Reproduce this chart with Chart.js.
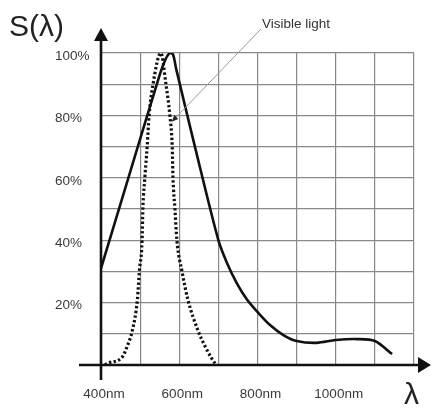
<!DOCTYPE html>
<html>
<head>
<meta charset="utf-8">
<script src="https://cdn.jsdelivr.net/npm/chart.js@4.4.0/dist/chart.umd.min.js"></script>
<style>
  html, body { margin: 0; padding: 0; background: #fff; }
  #box { width: 431px; height: 410px; position: relative; }
</style>
</head>
<body>
<div id="box"><canvas id="chart"></canvas></div>
<script>
// wavelengths (nm) and relative sensitivity (%)
const sensorNm  = [400, 470, 550, 565, 576, 584, 592, 640, 700, 722, 748, 773, 800, 832, 866, 900, 951, 1000, 1054, 1100, 1144];
const sensorPct = [31, 60, 93, 98, 100, 99.5, 95, 70, 40, 32.7, 26, 21, 17, 12.8, 9.6, 7.7, 7.1, 8, 8.3, 7.7, 3.5];

const eyeNm  = [410, 418, 454, 467, 480, 493, 498, 505, 507, 512, 518, 523, 533, 553, 566, 576, 582, 584, 589, 594, 607, 622, 648, 666, 681, 694];
const eyePct = [0, 0.6, 2.5, 6, 11, 21, 30, 40, 50, 60, 70, 80, 90, 100, 90, 80, 70, 60, 50, 40, 30, 21, 11, 6, 2.5, 0];

const xLabels = [400, 600, 800, 1000];
const yLabels = [20, 40, 60, 80, 100];

const toPoints = (xs, ys) => xs.map((x, i) => ({ x: x, y: ys[i] }));

const FONT = '"Liberation Sans", Arial, sans-serif';

// axes with arrows, titles and the "Visible light" pointer
const extras = {
  id: 'extras',
  afterDraw(c) {
    const ctx = c.ctx;
    const a = c.chartArea;
    const xs = c.scales.x, ys = c.scales.y;
    const x0 = a.left, y0 = a.bottom;
    ctx.save();

    // pointer line
    const px = xs.getPixelForValue(581), py = ys.getPixelForValue(78);
    const tx = 261, ty = 29;
    ctx.strokeStyle = '#999';
    ctx.lineWidth = 1;
    ctx.beginPath();
    ctx.moveTo(tx, ty);
    ctx.lineTo(px, py);
    ctx.stroke();
    const ang = Math.atan2(py - ty, px - tx);
    ctx.fillStyle = '#222';
    ctx.beginPath();
    ctx.moveTo(px, py);
    ctx.lineTo(px - 7 * Math.cos(ang - 0.4), py - 7 * Math.sin(ang - 0.4));
    ctx.lineTo(px - 7 * Math.cos(ang + 0.4), py - 7 * Math.sin(ang + 0.4));
    ctx.closePath();
    ctx.fill();

    ctx.fillStyle = '#333';
    ctx.font = '13.5px ' + FONT;
    ctx.textBaseline = 'alphabetic';
    ctx.fillText('Visible light', 262, 28);

    // axes
    ctx.strokeStyle = '#111';
    ctx.fillStyle = '#111';
    ctx.lineWidth = 2.6;
    ctx.beginPath();
    ctx.moveTo(x0, y0 + 15);
    ctx.lineTo(x0, 40);
    ctx.moveTo(79, y0);
    ctx.lineTo(420, y0);
    ctx.stroke();
    ctx.beginPath();
    ctx.moveTo(x0, 28);
    ctx.lineTo(x0 + 7, 41);
    ctx.lineTo(x0 - 7, 41);
    ctx.closePath();
    ctx.fill();
    ctx.beginPath();
    ctx.moveTo(431, y0);
    ctx.lineTo(418, y0 - 8);
    ctx.lineTo(418, y0 + 8);
    ctx.closePath();
    ctx.fill();

    ctx.fillStyle = '#222';
    ctx.font = '30px ' + FONT;
    ctx.fillText('S(\u03bb)', 9, 36);
    ctx.fillText('\u03bb', 404, 404);
    ctx.restore();
  }
};

new Chart(document.getElementById('chart'), {
  type: 'line',
  data: {
    datasets: [
      {
        label: 'Sensor',
        data: toPoints(sensorNm, sensorPct),
        borderColor: '#111',
        borderWidth: 2.6,
        pointRadius: 0,
        fill: false,
        tension: 0.3
      },
      {
        label: 'Eye',
        data: toPoints(eyeNm, eyePct),
        borderColor: '#111',
        borderWidth: 3.2,
        borderDash: [2.4, 2.3],
        pointRadius: 0,
        fill: false,
        cubicInterpolationMode: 'monotone'
      }
    ]
  },
  options: {
    responsive: true,
    maintainAspectRatio: false,
    animation: false,
    layout: { padding: { left: 55, right: 17, top: 53, bottom: 0 } },
    plugins: {
      legend: { display: false },
      tooltip: { enabled: false }
    },
    scales: {
      x: {
        type: 'linear',
        min: 400,
        max: 1200,
        afterFit: (s) => { s.height = 45; s.paddingLeft = 0; s.paddingRight = 0; },
        border: { display: false },
        grid: { color: '#888', lineWidth: 1.2, drawTicks: false },
        ticks: {
          stepSize: 100,
          padding: 21,
          labelOffset: 3,
          color: '#3a3a3a',
          font: { family: FONT, size: 13.5 },
          maxRotation: 0,
          autoSkip: false,
          callback: (v) => xLabels.includes(v) ? v + 'nm' : ''
        }
      },
      y: {
        min: 0,
        max: 100,
        afterFit: (s) => { s.width = 46; s.paddingTop = 0; s.paddingBottom = 0; },
        border: { display: false },
        grid: { color: '#888', lineWidth: 1.2, drawTicks: false },
        ticks: {
          stepSize: 10,
          crossAlign: 'far',
          labelOffset: 3,
          color: '#3a3a3a',
          font: { family: FONT, size: 13.5 },
          autoSkip: false,
          callback: (v) => yLabels.includes(v) ? v + '%' : ''
        }
      }
    }
  },
  plugins: [extras]
});
</script>
</body>
</html>
